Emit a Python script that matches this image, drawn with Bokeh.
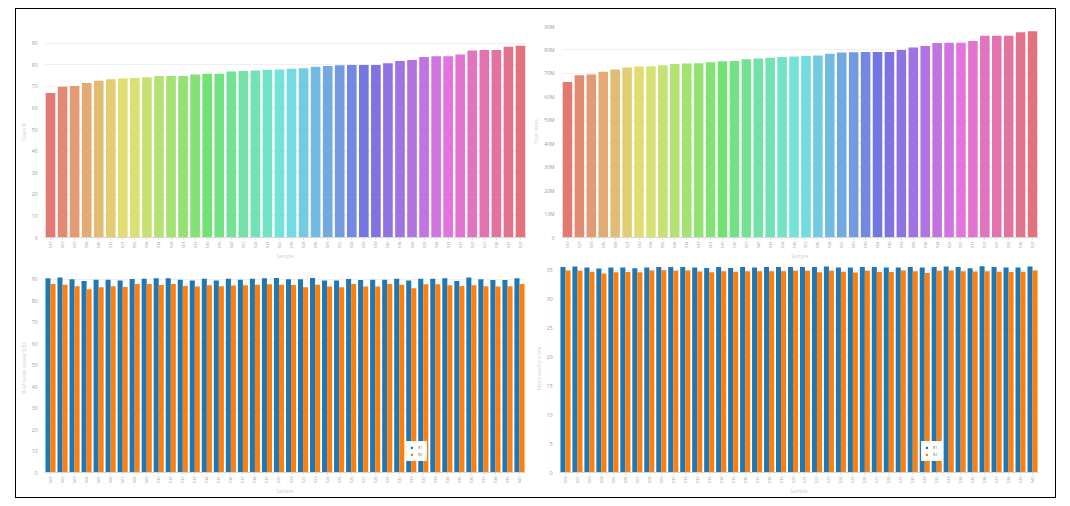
import colorsys
from math import pi
from bokeh.plotting import figure
from bokeh.models import (FactorRange, Range1d, SingleIntervalTicker,
                          CustomJSTickFormatter, ColumnDataSource, Legend, LegendItem)
from bokeh.layouts import row, column
from bokeh.transform import dodge
from bokeh.embed import file_html
from bokeh.resources import INLINE

# ---------------- data ----------------
clean_samples = ["S17", "S03", "S29", "S08", "S35", "S12", "S21", "S05", "S38", "S14",
                 "S26", "S01", "S33", "S10", "S19", "S40", "S07", "S24", "S31", "S02",
                 "S15", "S28", "S36", "S09", "S22", "S04", "S39", "S13", "S30", "S18",
                 "S06", "S25", "S34", "S11", "S37", "S20", "S27", "S16", "S32", "S23"]
clean_pct = [67.0, 69.9, 70.2, 71.6, 72.6, 73.3, 73.7, 73.9, 74.3, 74.8,
             74.8, 74.9, 75.6, 75.9, 75.9, 76.9, 77.2, 77.4, 77.7, 77.9,
             78.2, 78.5, 79.2, 79.5, 79.8, 80.0, 80.0, 80.0, 80.8, 81.8,
             82.3, 83.7, 84.0, 84.0, 84.8, 86.7, 86.9, 86.9, 88.4, 88.9]

reads_samples = ["S17", "S29", "S03", "S35", "S08", "S21", "S12", "S38", "S05", "S26",
                 "S14", "S33", "S01", "S19", "S10", "S07", "S40", "S31", "S24", "S15",
                 "S02", "S36", "S28", "S22", "S09", "S39", "S04", "S30", "S13", "S06",
                 "S18", "S34", "S25", "S37", "S11", "S27", "S20", "S32", "S16", "S23"]
total_reads_m = [66.3, 69.2, 69.5, 70.7, 71.7, 72.5, 72.9, 73.0, 73.5, 74.0,
                 74.2, 74.3, 74.7, 75.2, 75.3, 76.0, 76.4, 76.7, 77.0, 77.2,
                 77.4, 77.6, 78.4, 78.9, 79.0, 79.1, 79.1, 79.1, 80.0, 81.0,
                 81.7, 83.0, 83.1, 83.1, 83.8, 86.1, 86.1, 86.1, 87.5, 88.0]

q_samples = ["S01", "S02", "S03", "S04", "S05", "S06", "S07", "S08", "S09", "S10",
             "S11", "S12", "S13", "S14", "S15", "S16", "S17", "S18", "S19", "S20",
             "S21", "S22", "S23", "S24", "S25", "S26", "S27", "S28", "S29", "S30",
             "S31", "S32", "S33", "S34", "S35", "S36", "S37", "S38", "S39", "S40"]
q30_r1 = [90.5, 90.8, 90.0, 89.2, 89.8, 89.8, 89.4, 90.2, 90.3, 90.5,
          90.5, 89.8, 89.4, 90.3, 89.4, 90.3, 89.8, 90.3, 90.5, 90.6,
          90.0, 90.0, 90.6, 89.5, 89.4, 90.2, 89.7, 89.8, 89.8, 90.3,
          89.5, 90.3, 90.3, 90.5, 89.2, 90.8, 90.0, 89.7, 89.7, 90.5]
q30_r2 = [87.8, 87.5, 86.8, 85.4, 86.3, 86.8, 86.4, 87.8, 87.8, 87.4,
          87.8, 86.9, 86.6, 87.2, 86.8, 87.1, 87.2, 87.5, 87.7, 87.5,
          87.4, 86.3, 87.5, 86.6, 86.3, 87.8, 86.6, 86.6, 87.8, 87.5,
          85.8, 87.7, 87.7, 87.2, 86.9, 87.2, 86.8, 86.6, 86.8, 87.8]
mq_r1 = [35.58, 35.64, 35.46, 35.30, 35.46, 35.46, 35.35, 35.50, 35.58, 35.58,
         35.58, 35.46, 35.40, 35.58, 35.40, 35.58, 35.50, 35.58, 35.58, 35.58,
         35.58, 35.58, 35.64, 35.46, 35.46, 35.58, 35.58, 35.50, 35.50, 35.58,
         35.46, 35.58, 35.64, 35.58, 35.35, 35.70, 35.58, 35.46, 35.50, 35.64]
mq_r2 = [34.95, 34.90, 34.74, 34.45, 34.66, 34.70, 34.66, 34.95, 35.00, 34.90,
         34.95, 34.80, 34.66, 34.85, 34.74, 34.85, 34.85, 34.85, 34.85, 34.90,
         34.90, 34.66, 34.90, 34.74, 34.60, 34.90, 34.70, 34.70, 34.95, 34.85,
         34.55, 34.90, 34.95, 34.85, 34.80, 34.85, 34.74, 34.70, 34.74, 34.95]

series_names = ["R1", "R2"]

# ---------------- style ----------------
FONT = "Open Sans"
TICK_COLOR = "#9a9a9a"
LABEL_COLOR = "#cfcfcf"
BLUE = "#1f77b4"
ORANGE = "#ff7f0e"


def hls_colors(n, h0=0.01, l=0.67, s=0.66):
    out = []
    for i in range(n):
        r, g, b = colorsys.hls_to_rgb((h0 + i / n) % 1.0, l, s)
        out.append("#%02x%02x%02x" % (int(r * 255), int(g * 255), int(b * 255)))
    return out


def make_fig(factors, y_end, width, height, bl, br, bt, bb, ylabel, interval):
    p = figure(x_range=FactorRange(*factors), y_range=Range1d(0, y_end),
               width=width, height=height, output_backend="svg", toolbar_location=None,
               min_border_left=bl, min_border_right=br, min_border_top=bt,
               min_border_bottom=bb)
    p.outline_line_color = None
    p.xgrid.grid_line_color = None
    p.ygrid.grid_line_color = "#f0f0f0"
    p.yaxis.ticker = SingleIntervalTicker(interval=interval)
    p.yaxis.axis_line_color = None
    p.yaxis.major_tick_line_color = None
    p.yaxis.minor_tick_line_color = None
    p.yaxis.major_tick_out = 0
    p.yaxis.major_label_standoff = 3
    p.yaxis.axis_label = ylabel
    p.yaxis.axis_label_standoff = 2
    p.xaxis.axis_label = "Sample"
    p.xaxis.axis_label_standoff = 2
    p.xaxis.axis_line_color = "#d8d8d8"
    p.xaxis.major_tick_line_color = "#d8d8d8"
    p.xaxis.major_tick_out = 2
    p.xaxis.major_tick_in = 0
    p.xaxis.major_label_standoff = 2
    p.xaxis.major_label_orientation = pi / 2
    p.x_range.range_padding = 0
    for ax in (p.xaxis, p.yaxis):
        ax.major_label_text_font = FONT
        ax.major_label_text_color = TICK_COLOR
        ax.axis_label_text_font = FONT
        ax.axis_label_text_color = LABEL_COLOR
        ax.axis_label_text_font_style = "normal"
        ax.axis_label_text_font_size = "5px"
    p.yaxis.major_label_text_font_size = "5px"
    p.xaxis.major_label_text_font_size = "4px"
    return p


# ---- top-left ----
p1 = make_fig(clean_samples, 97.8, 514, 253, 28, 4, 17, 24, "Clean %", 10)
src1 = ColumnDataSource(dict(x=clean_samples, y=clean_pct, c=hls_colors(len(clean_samples))))
p1.vbar(x="x", top="y", width=0.8, fill_color="c", line_color=None, source=src1)

# ---- top-right ----
p2 = make_fig(reads_samples, 90, 525, 253, 29, 17, 17, 24, "Total reads", 10)
p2.yaxis.formatter = CustomJSTickFormatter(code="return tick == 0 ? '0' : tick + 'M';")
src2 = ColumnDataSource(dict(x=reads_samples, y=total_reads_m, c=hls_colors(len(reads_samples))))
p2.vbar(x="x", top="y", width=0.8, fill_color="c", line_color=None, source=src2)


def grouped(p, a, b):
    src = ColumnDataSource(dict(x=q_samples, a=a, b=b))
    r1 = p.vbar(x=dodge("x", -0.21, range=p.x_range), top="a", width=0.42,
                fill_color=BLUE, line_color=None, source=src)
    r2 = p.vbar(x=dodge("x", 0.21, range=p.x_range), top="b", width=0.42,
                fill_color=ORANGE, line_color=None, source=src)
    leg = Legend(items=[LegendItem(label=series_names[0], renderers=[r1]),
                        LegendItem(label=series_names[1], renderers=[r2])],
                 location=(362, 11))
    leg.label_text_font = FONT
    leg.label_text_font_size = "3.5px"
    leg.label_text_color = "#666666"
    leg.glyph_width = 3
    leg.glyph_height = 3
    leg.label_height = 3
    leg.label_width = 5
    leg.label_standoff = 5
    leg.spacing = 2
    leg.padding = 3
    leg.margin = 0
    leg.border_line_color = "#eeeeee"
    leg.background_fill_color = "white"
    leg.background_fill_alpha = 1.0
    p.add_layout(leg)


# ---- bottom-left ----
p3 = make_fig(q_samples, 96.9, 514, 235, 28, 5, 2, 24, "% of bases above Q30", 10)
grouped(p3, q30_r1, q30_r2)

# ---- bottom-right ----
p4 = make_fig(q_samples, 36, 525, 235, 29, 17, 2, 24, "Mean quality score", 5)
grouped(p4, mq_r1, mq_r2)

top_row = row(p1, p2, spacing=0)
bottom_row = row(p3, p4, spacing=0)
layout = column(top_row, bottom_row, spacing=0)
layout.styles = {"border": "1px solid black"}
layout.margin = (8, 0, 0, 15)

open("out.html", "w").write(file_html(layout, INLINE))
